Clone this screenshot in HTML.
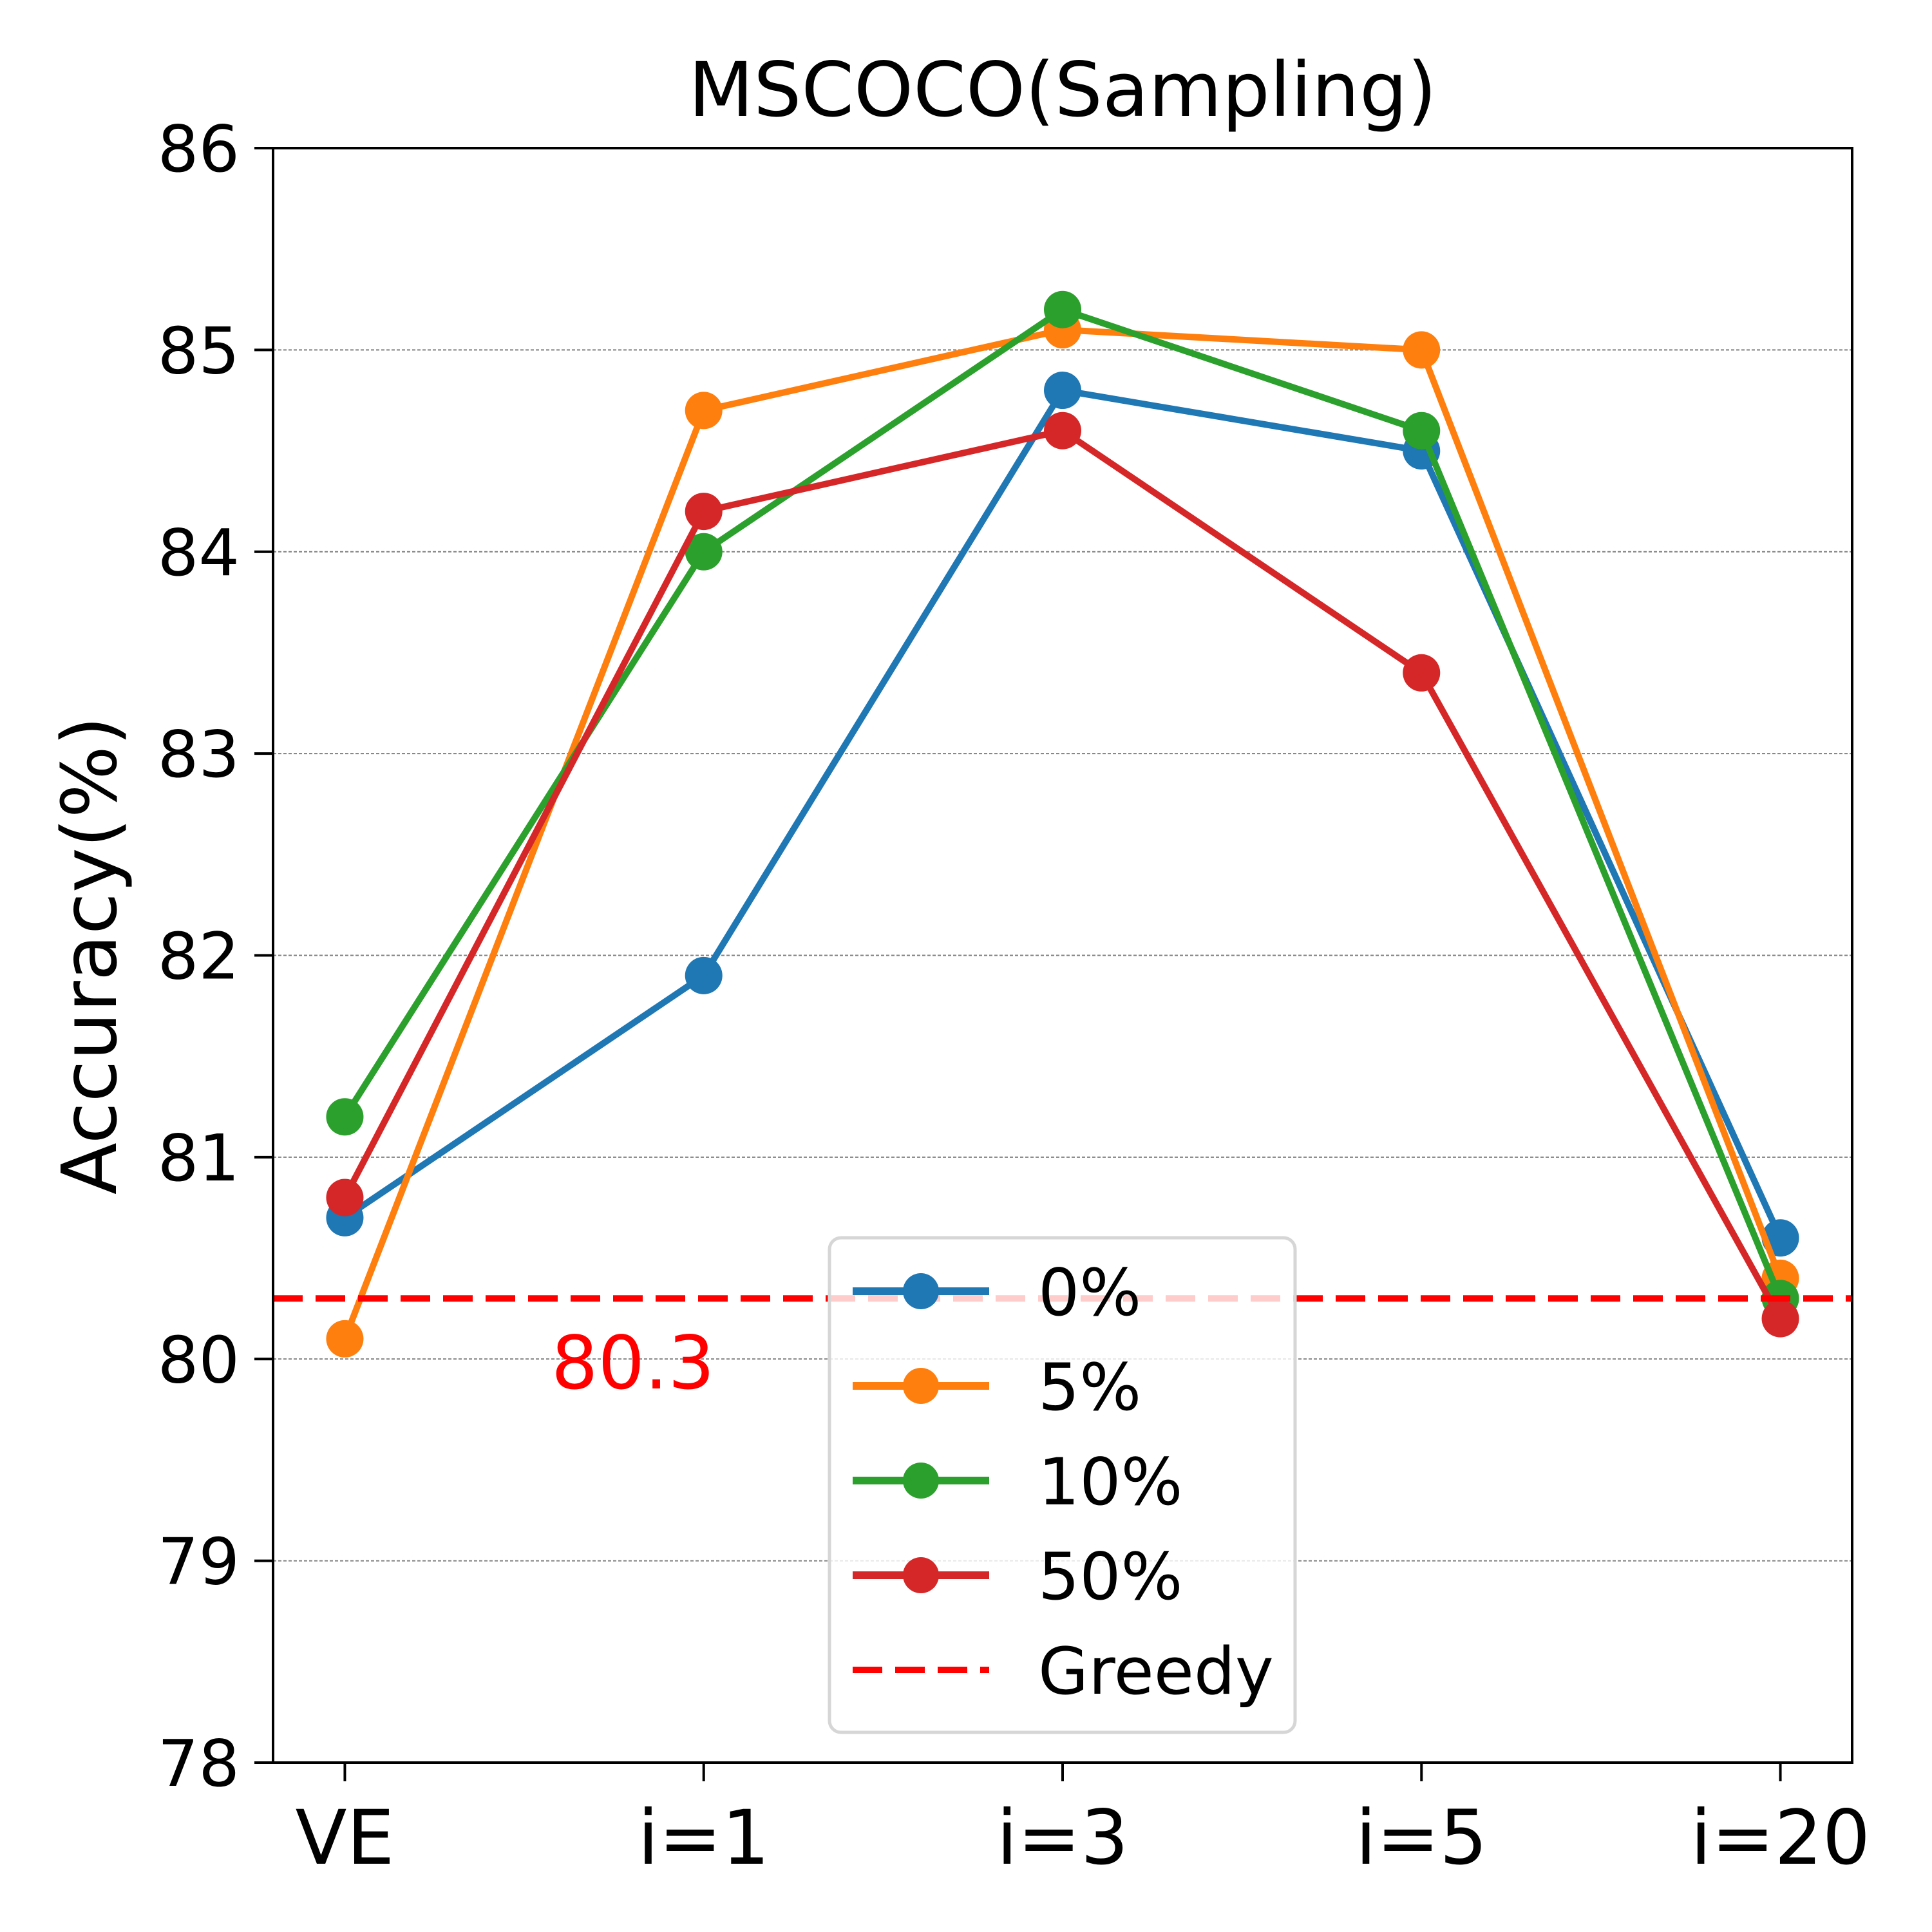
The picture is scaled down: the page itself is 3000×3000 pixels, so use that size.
<!DOCTYPE html>
<html><head><meta charset="utf-8"><style>
html,body{margin:0;padding:0;background:#fff}
svg{display:block}
text{font-family:"DejaVu Sans","Liberation Sans",sans-serif}
</style></head><body>
<svg id="chart" width="3000" height="3000" viewBox="0 0 3000 3000" xmlns="http://www.w3.org/2000/svg">
<rect x="0" y="0" width="3000" height="3000" fill="#fff"/>
<g id="grid"></g>
<g id="series"></g>
<g id="axes"></g>
<g id="legend"></g>
</svg>
<script>
const categories = ["VE","i=1","i=3","i=5","i=20"];
const s0 = [80.7, 81.9, 84.8, 84.5, 80.6];
const s5 = [80.1, 84.7, 85.1, 85.0, 80.4];
const s10 = [81.2, 84.0, 85.2, 84.6, 80.3];
const s50 = [80.8, 84.2, 84.6, 83.4, 80.2];
const seriesNames = ["0%","5%","10%","50%"];
const greedy = 80.3;
const yTicks = [78,79,80,81,82,83,84,85,86];

const NS="http://www.w3.org/2000/svg";
const L=424,R=2876,T=230,B=2737, yMin=78,yMax=86;
const xs=i=>L+(i+0.2)/4.4*(R-L);
const ys=v=>B-(v-yMin)/(yMax-yMin)*(B-T);
function mk(tag,attrs,parent,txt){const e=document.createElementNS(NS,tag);for(const k in attrs)e.setAttribute(k,attrs[k]);if(txt!==undefined)e.textContent=txt;parent.appendChild(e);return e;}
const grid=document.getElementById('grid'),ser=document.getElementById('series'),ax=document.getElementById('axes'),leg=document.getElementById('legend');
const colors=["#1f77b4","#ff7f0e","#2ca02c","#d62728"];
const data=[s0,s5,s10,s50];

yTicks.forEach(v=>{
  if(v>yMin&&v<yMax){const g=mk('line',{x1:L,x2:R,y1:ys(v),y2:ys(v),stroke:'#808080','stroke-width':2,'stroke-dasharray':'5,3'},grid);
  
  }
  const t=mk('line',{x1:L-29,x2:L,y1:ys(v),y2:ys(v),stroke:'#000','stroke-width':4},ax);
  
  
  const lb=mk('text',{x:L-52,y:ys(v)+36,'font-size':100,'text-anchor':'end',fill:'#000'},ax,String(v));
  
  
});
categories.forEach((c,i)=>{
  const t=mk('line',{x1:xs(i),x2:xs(i),y1:B,y2:B+29,stroke:'#000','stroke-width':4},ax);
  
  
  const lb=mk('text',{x:xs(i),y:B+157,'font-size':117,'text-anchor':'middle',fill:'#000'},ax,c);
  
  
});

data.forEach((d,si)=>{
  const pts=d.map((v,i)=>xs(i)+','+ys(v)).join(' ');
  const pl=mk('polyline',{points:pts,fill:'none',stroke:colors[si],'stroke-width':10,'stroke-linejoin':'round'},ser);
  
  
  d.forEach((v,i)=>{
    const c=mk('circle',{cx:xs(i),cy:ys(v),r:29,fill:colors[si]},ser);
    
    
  });
});
const gl=mk('line',{x1:L,x2:R,y1:ys(greedy),y2:ys(greedy),stroke:'#ff0000','stroke-width':10,'stroke-dasharray':'46,20'},ser);


const gt=mk('text',{x:856,y:ys(greedy)+140,'font-size':114,fill:'#ff0000'},ser,String(greedy));



const frame=mk('rect',{x:L,y:T,width:R-L,height:B-T,fill:'none',stroke:'#000','stroke-width':4},ax);


const title=mk('text',{x:(L+R)/2,y:180,'font-size':117,'text-anchor':'middle',fill:'#000'},ax,'MSCOCO(Sampling)');


const yl=mk('text',{x:0,y:0,'font-size':118,'text-anchor':'middle',fill:'#000',transform:'translate(180,'+((T+B)/2)+') rotate(-90)'},ax,'Accuracy(%)');



const box=mk('rect',{x:1288,y:1922,width:723,height:768,rx:18,fill:'#fff','fill-opacity':0.8,stroke:'#d6d6d6','stroke-width':5},leg);


const names=seriesNames.concat(['Greedy']);
names.forEach((n,i)=>{
  const cy=2005+i*147;
  const g=mk('g',{},leg);
  
  
  if(i<4){
    mk('line',{x1:1324,x2:1536,y1:cy,y2:cy,stroke:colors[i],'stroke-width':12},g);
    mk('circle',{cx:1430,cy:cy,r:28,fill:colors[i]},g);
  } else {
    mk('line',{x1:1324,x2:1536,y1:cy,y2:cy,stroke:'#ff0000','stroke-width':10,'stroke-dasharray':'46,20'},g);
  }
  mk('text',{x:1612,y:cy+37,'font-size':101,fill:'#000'},g,n);
});
</script>
</body></html>
